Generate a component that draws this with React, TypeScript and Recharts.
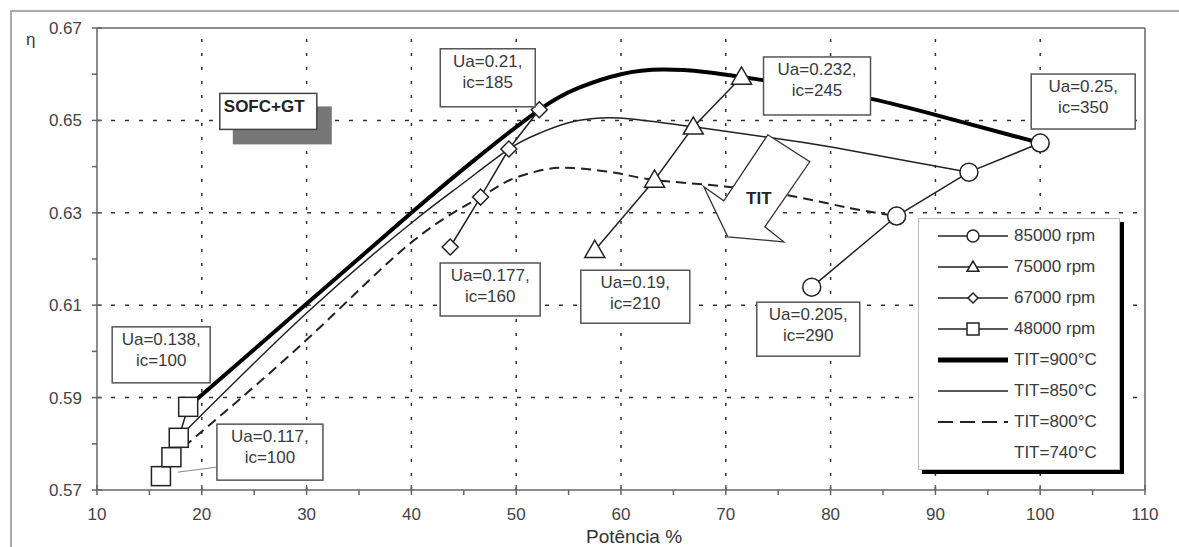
import React from 'react';
import { LineChart, Line, XAxis, YAxis, ReferenceLine, ReferenceDot } from 'recharts';

// axis ticks
const xTicks = [10, 15, 20, 25, 30, 35, 40, 45, 50, 55, 60, 65, 70, 75, 80, 85, 90, 95, 100, 105, 110];
const yTicks = [0.57, 0.58, 0.59, 0.6, 0.61, 0.62, 0.63, 0.64, 0.65, 0.66, 0.67];
const xGrid = [20, 30, 40, 50, 60, 70, 80, 90, 100];
const yGrid = [0.59, 0.61, 0.63, 0.65];

// constant-speed lines (markers)
const rpm85000X = [78.2, 86.3, 93.2, 100];
const rpm85000Y = [0.6139, 0.6293, 0.6388, 0.6451];
const rpm75000X = [57.5, 63.2, 66.9, 71.5];
const rpm75000Y = [0.6219, 0.6371, 0.6486, 0.6594];
const rpm67000X = [43.7, 46.6, 49.3, 52.2];
const rpm67000Y = [0.6226, 0.6334, 0.6438, 0.6523];
const rpm48000X = [16.1, 17.1, 17.8, 18.7];
const rpm48000Y = [0.573, 0.5771, 0.5813, 0.588];

// constant TIT curves
const tit900X = [18.7, 30, 40, 46, 52.2, 56, 60, 64, 68, 71.5, 78, 84, 90, 100];
const tit900Y = [0.588, 0.6103, 0.63, 0.6414, 0.6523, 0.6571, 0.66, 0.661, 0.6605, 0.6594, 0.6572, 0.6546, 0.6512, 0.6451];
const tit850X = [17.8, 30, 40, 45, 49.3, 52.3, 55, 58, 61, 66.9, 73.9, 80.2, 93.2];
const tit850Y = [0.5813, 0.6083, 0.6278, 0.6365, 0.6438, 0.6473, 0.6495, 0.6505, 0.6503, 0.6486, 0.6464, 0.6442, 0.6388];
const tit800X = [17.1, 30, 40, 46.6, 49.4, 52.6, 55.4, 59.6, 63.2, 69.9, 76.8, 81.9, 86.3];
const tit800Y = [0.5771, 0.6025, 0.6236, 0.6334, 0.6371, 0.6393, 0.6397, 0.6386, 0.6371, 0.6357, 0.6334, 0.631, 0.6293];

const zip = (xs: number[], ys: number[]) => xs.map((x, i) => ({ x, y: ys[i] }));

// point labels
const noteX = [100, 78.2, 71.5, 57.5, 52.2, 43.7, 18.7, 16.1];
const noteY = [0.6451, 0.6139, 0.6594, 0.6219, 0.6523, 0.6226, 0.588, 0.573];
const noteText = [
  ['Ua=0.25,', 'ic=350'],
  ['Ua=0.205,', 'ic=290'],
  ['Ua=0.232,', 'ic=245'],
  ['Ua=0.19,', 'ic=210'],
  ['Ua=0.21,', 'ic=185'],
  ['Ua=0.177,', 'ic=160'],
  ['Ua=0.138,', 'ic=100'],
  ['Ua=0.117,', 'ic=100'],
];
// box offset from its point, in px: dx, dy, w, h
const noteBox = [
  [-9, -69, 104, 55],
  [-55, 15, 103, 54],
  [22, -20, 107, 58],
  [-14, 20, 109, 53],
  [-99, -61, 95, 58],
  [-10, 16, 100, 53],
  [-76, -80, 98, 56],
  [56, -52, 106, 56],
];

const legendNames = ['85000 rpm', '75000 rpm', '67000 rpm', '48000 rpm', 'TIT=900°C', 'TIT=850°C', 'TIT=800°C', 'TIT=740°C'];

const FONT = '"Liberation Sans", Arial, sans-serif';
const INK = '#222';
const TXT = '#3a3a3a';

const mk = (kind: string, cx: number, cy: number, s: number, key?: any) => {
  const p = { fill: '#fff', stroke: INK, strokeWidth: 1.5, key };
  if (kind === 'circle') return <circle {...p} cx={cx} cy={cy} r={s} />;
  if (kind === 'triangle')
    return <polygon {...p} points={`${cx},${cy - s} ${cx - s},${cy + s * 0.72} ${cx + s},${cy + s * 0.72}`} />;
  if (kind === 'diamond')
    return <polygon {...p} points={`${cx},${cy - s} ${cx + s},${cy} ${cx},${cy + s} ${cx - s},${cy}`} />;
  return <rect {...p} x={cx - s} y={cy - s} width={s * 2} height={s * 2} />;
};

const XTick = ({ x, y, payload }: any) => {
  const major = payload.value % 10 === 0;
  return (
    <g>
      <line x1={x} x2={x} y1={major ? y - 5 : y} y2={y + 5} stroke="#666" strokeWidth={1.5} />
      {major && (
        <text x={x} y={y + 30} textAnchor="middle" fontSize={17} fontFamily={FONT} fill="#444">
          {payload.value}
        </text>
      )}
    </g>
  );
};

const YTick = ({ x, y, payload }: any) => {
  const major = Math.round(payload.value * 100) % 2 === 1;
  return (
    <g>
      <line x1={x - 5} x2={major ? x + 5 : x} y1={y} y2={y} stroke="#666" strokeWidth={1.5} />
      {major && (
        <text x={x - 15} y={y + 6} textAnchor="end" fontSize={17} fontFamily={FONT} fill="#444">
          {payload.value.toFixed(2)}
        </text>
      )}
    </g>
  );
};

const Note = ({ cx, cy, i }: any) => {
  const [dx, dy, w, h] = noteBox[i];
  const bx = cx + dx;
  const by = cy + dy;
  return (
    <g>
      {i === 7 && <line x1={cx + 17} y1={cy - 4} x2={bx} y2={by + 43} stroke="#888" strokeWidth={1} />}
      <rect x={bx} y={by} width={w} height={h} fill="#fff" stroke="#555" strokeWidth={1.5} />
      <text textAnchor="middle" fontSize={17} fontFamily={FONT} fill={TXT}>
        <tspan x={bx + w / 2} y={by + 18}>{noteText[i][0]}</tspan>
        <tspan x={bx + w / 2} y={by + 39}>{noteText[i][1]}</tspan>
      </text>
    </g>
  );
};

const SofcTag = ({ cx, cy }: any) => (
  <g>
    <rect x={cx + 31} y={cy - 14} width={99} height={38} fill="#777" />
    <rect x={cx + 18} y={cy - 27} width={97} height={36} fill="#fff" stroke="#444" strokeWidth={1.5} />
    <text x={cx + 22} y={cy - 8} fontSize={17} fontWeight="bold" fontFamily={FONT} fill="#222">SOFC+GT</text>
  </g>
);

const TitArrow = ({ cx, cy }: any) => {
  const pts = [[42, -78], [84, -51], [39, 14], [58, 29], [2, 24], [-22, -26], [-2, -12]]
    .map(([a, b]) => `${cx + a},${cy + b}`)
    .join(' ');
  return (
    <g>
      <polygon points={pts} fill="#fff" stroke="#333" strokeWidth={1.3} />
      <text x={cx + 33} y={cy - 9} textAnchor="middle" fontSize={17} fontWeight="bold" fontFamily={FONT} fill="#222">TIT</text>
    </g>
  );
};

const legendIcon = (i: number) => {
  const kinds = ['circle', 'triangle', 'diamond', 'square'];
  if (i < 4)
    return (
      <>
        <line x1={0} x2={70} y1={8} y2={8} stroke={INK} strokeWidth={1.5} />
        {mk(kinds[i], 35, 8, i === 2 ? 5 : 6)}
      </>
    );
  if (i === 4) return <line x1={0} x2={70} y1={8} y2={8} stroke="#000" strokeWidth={5} />;
  if (i === 5) return <line x1={0} x2={70} y1={8} y2={8} stroke={INK} strokeWidth={1.5} />;
  if (i === 6) return <line x1={0} x2={70} y1={8} y2={8} stroke={INK} strokeWidth={2} strokeDasharray="15 7" />;
  return null;
};

const LegendBox = () => (
  <div
    style={{
      position: 'absolute',
      left: 918,
      top: 218,
      width: 202,
      height: 252,
      background: '#fff',
      border: '1px solid #bbb',
      boxShadow: '4px 4px 0 #000',
      boxSizing: 'border-box',
    }}
  >
    {legendNames.map((name, i) => (
      <div
        key={name}
        style={{ position: 'absolute', left: 19, top: 8 + i * 31, height: 17, display: 'flex', alignItems: 'center' }}
      >
        <svg width={72} height={16} style={{ overflow: 'visible' }}>
          {legendIcon(i)}
        </svg>
        <span style={{ fontFamily: FONT, fontSize: 17, color: TXT, marginLeft: 4, whiteSpace: 'nowrap' }}>{name}</span>
      </div>
    ))}
  </div>
);

const Z = { zIndex: 2500 } as any;

export default function App() {
  return (
    <div style={{ position: 'absolute', left: 0, top: 0, width: 1179, height: 547, background: '#fff', overflow: 'hidden' }}>
      <div
        style={{
          position: 'absolute',
          left: 10,
          top: 10,
          width: 1300,
          height: 700,
          border: '2px solid #aaa',
        }}
      />
      <div style={{ position: 'absolute', left: 0, top: 0 }}>
        <LineChart width={1179} height={547} margin={{ top: 28, right: 34, bottom: 27, left: 37 }}>
          <XAxis
            type="number"
            dataKey="x"
            domain={[10, 110]}
            ticks={xTicks}
            interval={0}
            tickSize={0}
            tickMargin={0}
            tickLine={false}
            tick={<XTick />}
            height={30}
            allowDataOverflow
            axisLine={{ stroke: '#666', strokeWidth: 1.5 }}
          />
          <YAxis
            type="number"
            dataKey="y"
            domain={[0.57, 0.67]}
            ticks={yTicks}
            interval={0}
            tickSize={0}
            tickMargin={0}
            tickLine={false}
            tick={<YTick />}
            width={60}
            allowDataOverflow
            axisLine={{ stroke: '#666', strokeWidth: 1.5 }}
          />
          {xGrid.map((v) => (
            <ReferenceLine key={'gx' + v} x={v} stroke="#333" strokeWidth={1.5} strokeDasharray="3 11" zIndex={-100} />
          ))}
          {yGrid.map((v) => (
            <ReferenceLine key={'gy' + v} y={v} stroke="#333" strokeWidth={1.5} strokeDasharray="4 10" zIndex={-100} />
          ))}
          <ReferenceLine y={0.67} stroke="#666" strokeWidth={1.5} />
          <ReferenceLine x={110} stroke="#666" strokeWidth={1.5} />

          <Line data={zip(tit900X, tit900Y)} dataKey="y" type="natural" stroke="#000" strokeWidth={4} dot={false} activeDot={false} isAnimationActive={false} />
          <Line data={zip(tit850X, tit850Y)} dataKey="y" type="natural" stroke={INK} strokeWidth={1.5} dot={false} activeDot={false} isAnimationActive={false} />
          <Line data={zip(tit800X, tit800Y)} dataKey="y" type="natural" stroke={INK} strokeWidth={2} strokeDasharray="10 6" dot={false} activeDot={false} isAnimationActive={false} />

          <Line data={zip(rpm85000X, rpm85000Y)} dataKey="y" type="linear" stroke={INK} strokeWidth={1.5} activeDot={false} isAnimationActive={false}
            dot={(p: any) => mk('circle', p.cx, p.cy, 9, p.index)} />
          <Line data={zip(rpm75000X, rpm75000Y)} dataKey="y" type="linear" stroke={INK} strokeWidth={1.5} activeDot={false} isAnimationActive={false}
            dot={(p: any) => mk('triangle', p.cx, p.cy, 10, p.index)} />
          <Line data={zip(rpm67000X, rpm67000Y)} dataKey="y" type="linear" stroke={INK} strokeWidth={1.5} activeDot={false} isAnimationActive={false}
            dot={(p: any) => mk('diamond', p.cx, p.cy, 8, p.index)} />
          <Line data={zip(rpm48000X, rpm48000Y)} dataKey="y" type="linear" stroke={INK} strokeWidth={1.5} activeDot={false} isAnimationActive={false}
            dot={(p: any) => mk('square', p.cx, p.cy, 9.5, p.index)} />

          <ReferenceDot x={70} y={0.63} {...Z} shape={(p: any) => <TitArrow cx={p.cx} cy={p.cy} />} />
          <ReferenceDot x={20} y={0.65} {...Z} shape={(p: any) => <SofcTag cx={p.cx} cy={p.cy} />} />
          {noteX.map((x, i) => (
            <ReferenceDot key={'n' + i} x={x} y={noteY[i]} {...Z} shape={(p: any) => <Note cx={p.cx} cy={p.cy} i={i} />} />
          ))}
        </LineChart>
      </div>
      <div style={{ position: 'absolute', left: 26, top: 30, fontFamily: FONT, fontSize: 17, color: TXT }}>η</div>
      <div style={{ position: 'absolute', left: 586, top: 526, fontFamily: FONT, fontSize: 19, color: '#333', whiteSpace: 'nowrap' }}>
        Potência %
      </div>
      <LegendBox />
    </div>
  );
}
